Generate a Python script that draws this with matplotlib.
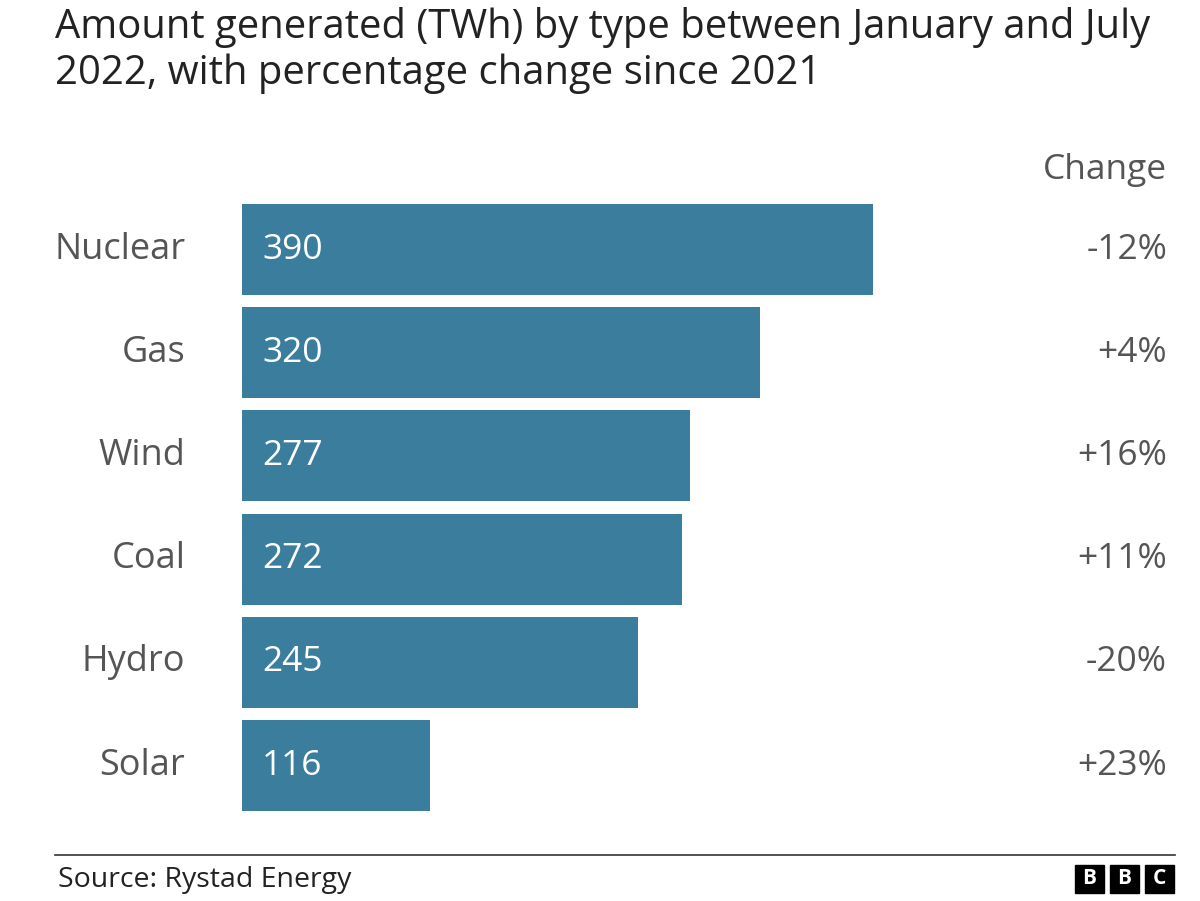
import matplotlib
matplotlib.use("Agg")
import matplotlib.pyplot as plt
from matplotlib.patches import Rectangle

plt.rcParams['font.family'] = ['Open Sans', 'DejaVu Sans']

categories = ["Nuclear", "Gas", "Wind", "Coal", "Hydro", "Solar"]
values = [390, 320, 277, 272, 245, 116]
changes = ["-12%", "+4%", "+16%", "+11%", "-20%", "+23%"]

W, H = 1200, 901
fig = plt.figure(figsize=(12, 9.01), dpi=100)
fig.patch.set_facecolor("white")

def fx(px): return px / W
def fy(py): return 1 - py / H

top, pitch, bh = 204, 103.2, 91
ax_top = top - (pitch - bh) / 2
ax_bot = ax_top + pitch * 6
ax = fig.add_axes([fx(242), fy(ax_bot), fx(873) - fx(242), (ax_bot - ax_top) / H])
ax.set_xlim(0, 390)
ax.set_ylim(5.5, -0.5)
ys = list(range(len(categories)))
ax.barh(ys, values, height=bh / pitch, color="#3b7d9c")
for y, v, c, ch in zip(ys, values, categories, changes):
    ax.text(values[0] * 0.032, y, str(v), color="white", fontsize=25.5, va="center", ha="left")
    ax.text(-35, y, c, color="#555555", fontsize=26, va="center", ha="right")
    ax.text(fx(1167), fig.transFigure.inverted().transform(ax.transData.transform((0, y)))[1],
            ch, transform=fig.transFigure, color="#555555", fontsize=25.5, va="center", ha="right")
ax.axis("off")

fig.text(fx(55), fy(7), "Amount generated (TWh) by type between January and July\n2022, with percentage change since 2021",
         fontsize=28.8, color="#222222", va="top", ha="left", linespacing=1.17)
fig.text(fx(1167), fy(170), "Change", fontsize=25.5, color="#555555", va="center", ha="right")

fig.add_artist(plt.Line2D([fx(55), fx(1175)], [fy(855), fy(855)], color="#333333", lw=1.2))
fig.text(fx(58), fy(880), "Source: Rystad Energy", fontsize=20.5, color="#222222", va="center", ha="left")
for i, ch in enumerate("BBC"):
    x0 = 1075 + i * 35
    fig.add_artist(Rectangle((fx(x0), fy(893)), fx(29), 28 / H, color="black", transform=fig.transFigure))
    fig.text(fx(x0 + 14.5), fy(879), ch, fontsize=15, fontweight="bold", color="white", ha="center", va="center")

fig.savefig("out.png", dpi=100, facecolor="white")
